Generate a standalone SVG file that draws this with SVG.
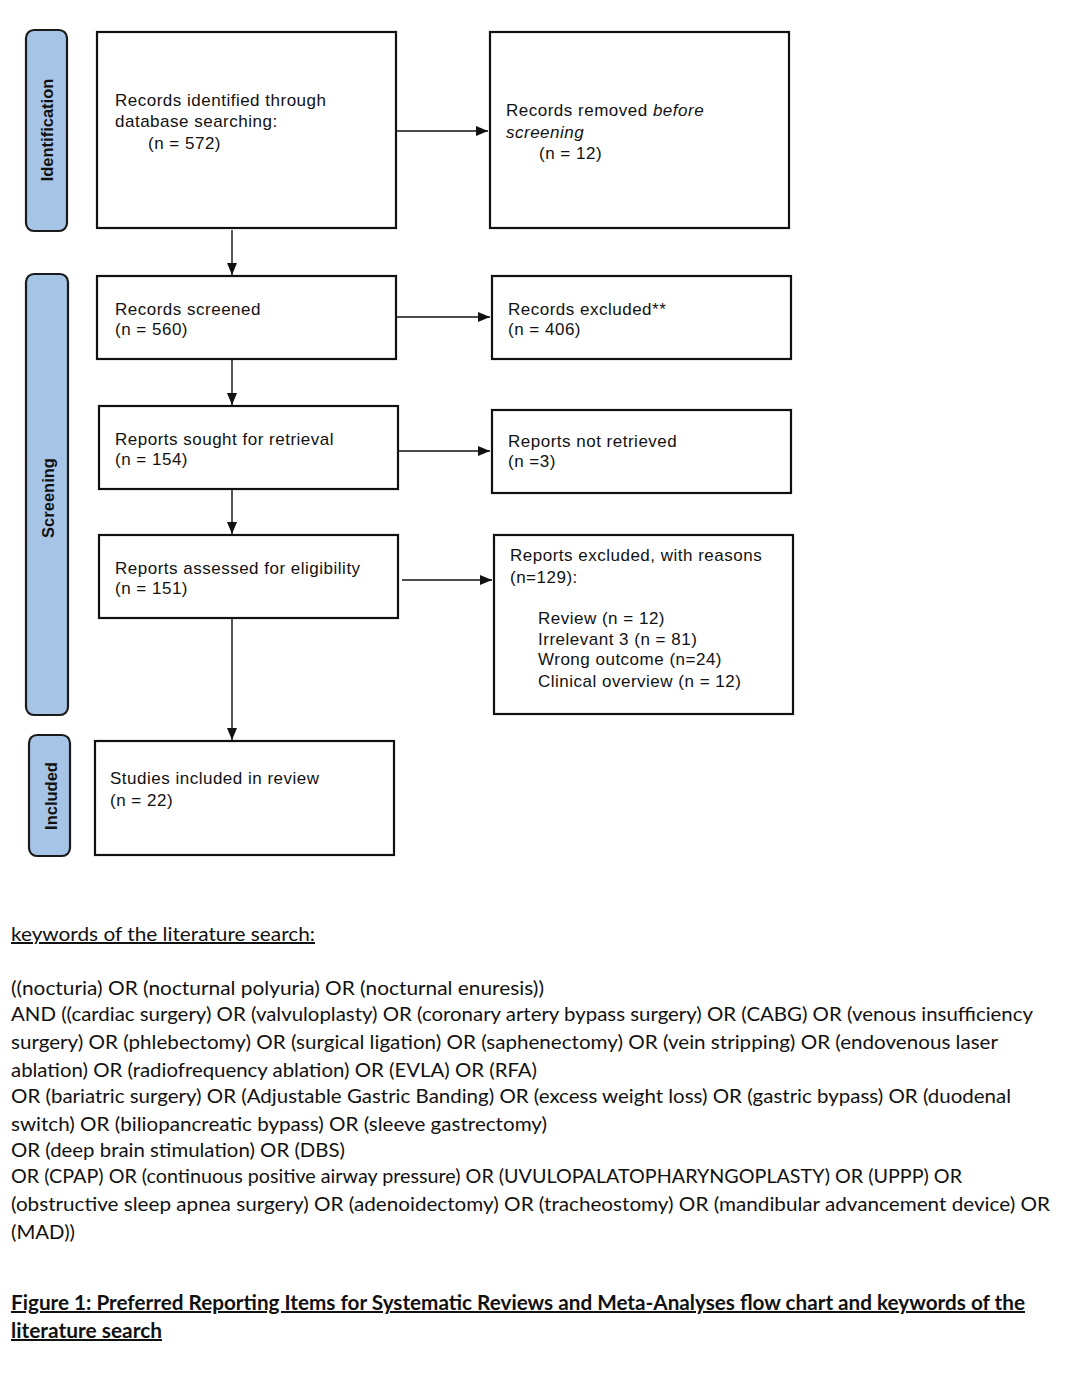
<svg xmlns="http://www.w3.org/2000/svg" width="1080" height="1380" viewBox="0 0 1080 1380">
<style>
.phase{fill:#a6c4e6;stroke:#1a1a1a;stroke-width:2.2}
.ptxt{font-family:"Liberation Sans",Arial,sans-serif;font-size:16.5px;font-weight:bold;fill:#111;text-anchor:middle}
.box{fill:#fff;stroke:#111;stroke-width:2.2}
.bt{font-family:"Liberation Sans",Arial,sans-serif;font-size:17px;letter-spacing:0.5px;fill:#111}
.con{stroke:#111;stroke-width:1.4;fill:none;marker-end:url(#ah)}
.kw{font-family:Lato,"Open Sans",sans-serif;font-size:20px;fill:#111}
.ttl{font-family:Lato,"Open Sans",sans-serif;font-size:20px;font-weight:bold;fill:#111}
</style>
<defs>
<marker id="ah" viewBox="0 0 12 12" refX="12" refY="6" markerWidth="12" markerHeight="12" markerUnits="userSpaceOnUse" orient="auto">
<path d="M0,1 L12,6 L0,11 Z" fill="#111"/>
</marker>
</defs>
<rect width="1080" height="1380" fill="#fff"/>

<g id="phase-identification">
<rect class="phase" x="26" y="30" width="41" height="201" rx="8"/>
<text class="ptxt" transform="translate(53,130) rotate(-90)">Identification</text>
</g>
<g id="phase-screening">
<rect class="phase" x="26" y="274" width="42" height="441" rx="8"/>
<text class="ptxt" transform="translate(54,498) rotate(-90)">Screening</text>
</g>
<g id="phase-included">
<rect class="phase" x="29" y="735" width="41" height="121" rx="8"/>
<text class="ptxt" transform="translate(57,796) rotate(-90)">Included</text>
</g>

<g id="n-identified">
<rect class="box" x="97" y="32" width="299" height="196"/>
<text class="bt" x="115" y="106">Records identified through</text>
<text class="bt" x="115" y="127">database searching:</text>
<text class="bt" x="148" y="149">(n = 572)</text>
</g>
<g id="n-removed">
<rect class="box" x="490" y="32" width="299" height="196"/>
<text class="bt" x="506" y="116">Records removed <tspan font-style="italic">before</tspan></text>
<text class="bt" x="506" y="138" font-style="italic">screening</text>
<text class="bt" x="539" y="159">(n = 12)</text>
</g>
<g id="n-screened">
<rect class="box" x="97" y="276" width="299" height="83"/>
<text class="bt" x="115" y="315">Records screened</text>
<text class="bt" x="115" y="335">(n = 560)</text>
</g>
<g id="n-excluded">
<rect class="box" x="492" y="276" width="299" height="83"/>
<text class="bt" x="508" y="315">Records excluded**</text>
<text class="bt" x="508" y="335">(n = 406)</text>
</g>
<g id="n-sought">
<rect class="box" x="99" y="406" width="299" height="83"/>
<text class="bt" x="115" y="445">Reports sought for retrieval</text>
<text class="bt" x="115" y="465">(n = 154)</text>
</g>
<g id="n-notretrieved">
<rect class="box" x="492" y="410" width="299" height="83"/>
<text class="bt" x="508" y="447">Reports not retrieved</text>
<text class="bt" x="508" y="467">(n =3)</text>
</g>
<g id="n-assessed">
<rect class="box" x="99" y="535" width="299" height="83"/>
<text class="bt" x="115" y="574">Reports assessed for eligibility</text>
<text class="bt" x="115" y="594">(n = 151)</text>
</g>
<g id="n-reasons">
<rect class="box" x="494" y="535" width="299" height="179"/>
<text class="bt" x="510" y="561">Reports excluded, with reasons</text>
<text class="bt" x="510" y="583">(n=129):</text>
<text class="bt" x="538" y="624">Review (n = 12)</text>
<text class="bt" x="538" y="645">Irrelevant 3 (n = 81)</text>
<text class="bt" x="538" y="665">Wrong outcome (n=24)</text>
<text class="bt" x="538" y="687">Clinical overview (n = 12)</text>
</g>
<g id="n-included">
<rect class="box" x="95" y="741" width="299" height="114"/>
<text class="bt" x="110" y="784">Studies included in review</text>
<text class="bt" x="110" y="806">(n = 22)</text>
</g>

<g id="connectors">
<line class="con" x1="232" y1="230" x2="232" y2="275"/>
<line class="con" x1="397" y1="131" x2="488" y2="131"/>
<line class="con" x1="397" y1="317" x2="490" y2="317"/>
<line class="con" x1="232" y1="360" x2="232" y2="405"/>
<line class="con" x1="399" y1="451" x2="490" y2="451"/>
<line class="con" x1="232" y1="490" x2="232" y2="534"/>
<line class="con" x1="402" y1="580" x2="492" y2="580"/>
<line class="con" x1="232" y1="619" x2="232" y2="740"/>
</g>

<g id="keywords">
<text class="kw" x="11" y="941" textLength="304" lengthAdjust="spacingAndGlyphs" text-decoration="underline">keywords of the literature search:</text>
<text class="kw" x="11" y="995" textLength="533" lengthAdjust="spacingAndGlyphs">((nocturia) OR (nocturnal polyuria) OR (nocturnal enuresis))</text>
<text class="kw" x="11" y="1021" textLength="1022" lengthAdjust="spacingAndGlyphs">AND ((cardiac surgery) OR (valvuloplasty) OR (coronary artery bypass surgery) OR (CABG) OR (venous insufficiency</text>
<text class="kw" x="11" y="1049" textLength="987" lengthAdjust="spacingAndGlyphs">surgery) OR (phlebectomy) OR (surgical ligation) OR (saphenectomy) OR (vein stripping) OR (endovenous laser</text>
<text class="kw" x="11" y="1077" textLength="526" lengthAdjust="spacingAndGlyphs">ablation) OR (radiofrequency ablation) OR (EVLA) OR (RFA)</text>
<text class="kw" x="11" y="1103" textLength="1000" lengthAdjust="spacingAndGlyphs">OR (bariatric surgery) OR (Adjustable Gastric Banding) OR (excess weight loss) OR (gastric bypass) OR (duodenal</text>
<text class="kw" x="11" y="1131" textLength="536" lengthAdjust="spacingAndGlyphs">switch) OR (biliopancreatic bypass) OR (sleeve gastrectomy)</text>
<text class="kw" x="11" y="1157" textLength="334" lengthAdjust="spacingAndGlyphs">OR (deep brain stimulation) OR (DBS)</text>
<text class="kw" x="11" y="1183" textLength="951" lengthAdjust="spacingAndGlyphs">OR (CPAP) OR (continuous positive airway pressure) OR (UVULOPALATOPHARYNGOPLASTY) OR (UPPP) OR</text>
<text class="kw" x="11" y="1211" textLength="1039" lengthAdjust="spacingAndGlyphs">(obstructive sleep apnea surgery) OR (adenoidectomy) OR (tracheostomy) OR (mandibular advancement device) OR</text>
<text class="kw" x="11" y="1239" textLength="64" lengthAdjust="spacingAndGlyphs">(MAD))</text>
</g>

<g id="caption">
<text class="ttl" x="11" y="1310" textLength="1014" lengthAdjust="spacingAndGlyphs" text-decoration="underline">Figure 1: Preferred Reporting Items for Systematic Reviews and Meta-Analyses flow chart and keywords of the</text>
<text class="ttl" x="11" y="1338" textLength="151" lengthAdjust="spacingAndGlyphs" text-decoration="underline">literature search</text>
</g>
</svg>
